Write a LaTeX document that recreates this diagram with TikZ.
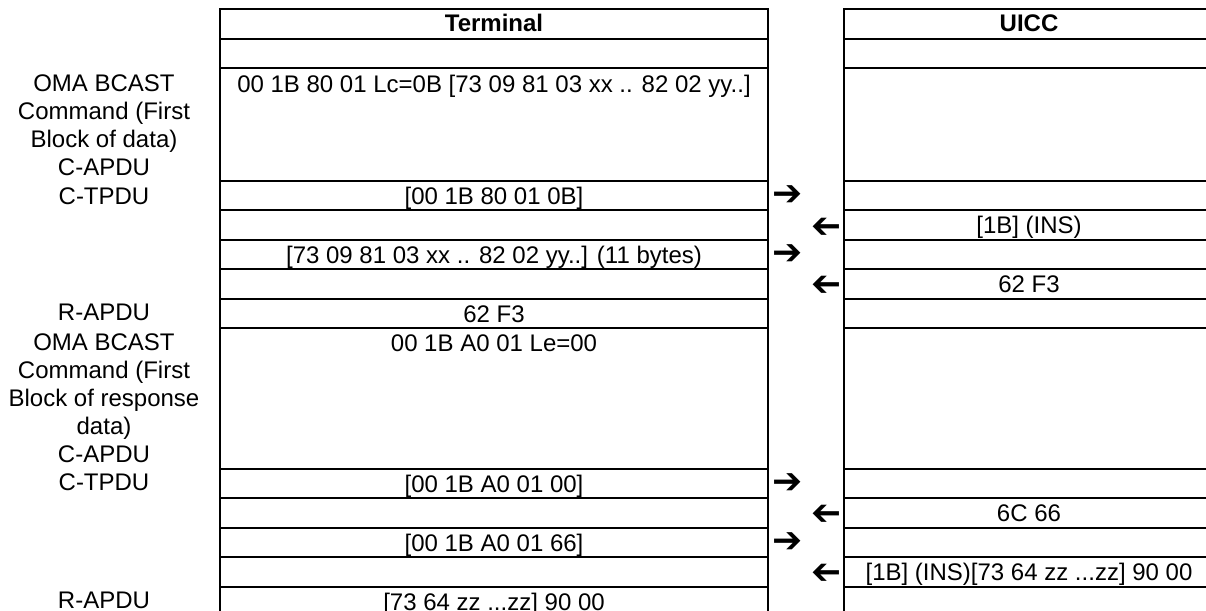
\documentclass[tikz,border=0pt]{standalone}
\usepackage{fontspec}
\setmainfont{Liberation Sans}
\newfontfamily\arrowfont{DejaVu Sans}

\begin{document}
\begin{tikzpicture}[x=0.5pt, y=-0.5pt, font=\fontsize{12}{14}\selectfont,
  grid/.style={line width=1pt},
  cell/.style={anchor=base, inner sep=0pt},
  hdr/.style={cell, font=\fontsize{12}{14}\selectfont\bfseries},
  lbl/.style={anchor=base, inner sep=0pt, align=center},
  tomark/.style={inner sep=0pt, font=\arrowfont\fontsize{18}{20}\selectfont\bfseries},
  frommark/.style={tomark, rotate=180}]
\useasboundingbox (0,0) rectangle (1206,611);
\clip (0,0) rectangle (1206,611);
\draw[grid] (220,617) -- (220,8.7) -- (768,8.7) -- (768,617);
\draw[grid] (843.5,617) -- (843.5,8.7) -- (1215,8.7) -- (1215,617);
\foreach \y in {38.7,68,181,210,240.3,269,298.7,327.7,469,498,527.7,556.7,586.7}
  \draw[grid] (220,\y) -- (768,\y) (843.5,\y) -- (1215,\y);

\node[hdr] (term) at (494,31.7) {Terminal};
\node[hdr] (uicc) at (1029,31.7) {UICC};

\node[lbl] (cmd1) at (104,175.5) {OMA BCAST\\Command (First\\Block of data)\\C-APDU};
\node[lbl] (tpdu1) at (104,204) {C-TPDU};
\node[lbl] (rapdu1) at (104,320) {R-APDU};
\node[lbl] (cmd2) at (104,462) {OMA BCAST\\Command (First\\Block of response\\data)\\C-APDU};
\node[lbl] (tpdu2) at (104,490.5) {C-TPDU};
\node[lbl] (rapdu2) at (104,608) {R-APDU};

\node[cell] (t1) at (494,92) {00 1B 80 01 Lc=0B [73 09 81 03 xx .. 82 02 yy..]};
\node[cell] (t2) at (494,204.5) {[00 1B 80 01 0B]};
\node[cell] (t3) at (494,263.8) {[73 09 81 03 xx .. 82 02 yy..] (11 bytes)};
\node[cell] (t4) at (494,322.2) {62 F3};
\node[cell] (t5) at (494,351.2) {00 1B A0 01 Le=00};
\node[cell] (t6) at (494,492.5) {[00 1B A0 01 00]};
\node[cell] (t7) at (494,551.2) {[00 1B A0 01 66]};
\node[cell] (t8) at (494,610.2) {[73 64 zz ...zz] 90 00};

\node[cell] (u1) at (1029,233.5) {[1B] (INS)};
\node[cell] (u2) at (1029,292.5) {62 F3};
\node[cell] (u3) at (1029,521.5) {6C 66};
\node[cell] (u4) at (1029,580.2) {[1B] (INS)[73 64 zz ...zz] 90 00};

\node[tomark] (out1) at (788,195.5) {➔};
\node[frommark] (in1) at (826.5,225) {➔};
\node[tomark] (out2) at (788,254.7) {➔};
\node[frommark] (in2) at (826.5,283.8) {➔};
\node[tomark] (out3) at (788,483.5) {➔};
\node[frommark] (in3) at (826.5,512.8) {➔};
\node[tomark] (out4) at (788,542.2) {➔};
\node[frommark] (in4) at (826.5,571.7) {➔};
\end{tikzpicture}
\end{document}
